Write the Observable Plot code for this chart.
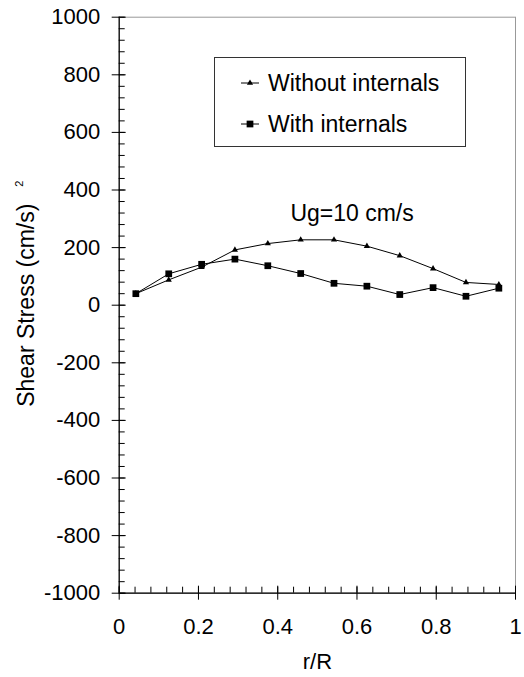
<!DOCTYPE html>
<html><head><meta charset="utf-8">
<script src="https://cdn.jsdelivr.net/npm/d3@7"></script>
<script src="https://cdn.jsdelivr.net/npm/@observablehq/plot@0.6"></script>
<style>
body{margin:0;background:#fff;}
#wrap{position:relative;width:524px;height:677px;font-family:Arial,"Liberation Sans",sans-serif;color:#000;}
#legend{position:absolute;left:214px;top:57px;width:252px;height:90px;border:1px solid #333;box-sizing:border-box;background:#fff;}
.row{position:absolute;left:26px;height:30px;line-height:30px;font-size:23px;display:flex;align-items:center;white-space:nowrap;}
.row svg{margin-right:9px;}
</style></head><body><div id="wrap"></div>
<script>
// r/R positions
const rR = [0.042, 0.125, 0.208, 0.292, 0.375, 0.458, 0.542, 0.625, 0.708, 0.792, 0.875, 0.958];
// Shear stress (cm/s)^2
const withoutInternals = [40, 88, 132, 192, 214, 227, 227, 205, 172, 127, 79, 72];
const withInternals = [40, 109, 142, 160, 137, 110, 76, 66, 37, 61, 31, 59];
const seriesNames = ["Without internals", "With internals"];
const seriesSymbols = ["triangle", "square"];
const xTicks = [0, 0.2, 0.4, 0.6, 0.8, 1];
const xTickLabels = ["0", "0.2", "0.4", "0.6", "0.8", "1"];
const xMinorTicks = d3.range(0, 1.0001, 0.04);
const yTicks = [-1000, -800, -600, -400, -200, 0, 200, 400, 600, 800, 1000];
const yMinorTicks = d3.range(-1000, 1001, 40);
const annotation = [{x: 0.432, y: 292, text: "Ug=10 cm/s"}];
const xLabel = "r/R";
const yLabel = "Shear Stress (cm/s)";
const yLabelSup = "2";

const W = 524, H = 677, mL = 118.7, mR = 9, mT = 16.7, mB = 84.3;
const plotW = W - mL - mR, plotH = H - mT - mB;

const data = rR.flatMap((x, i) => [
  {x, y: withoutInternals[i], s: seriesNames[0]},
  {x, y: withInternals[i], s: seriesNames[1]}
]);

const chart = Plot.plot({
  width: W, height: H,
  marginLeft: mL, marginRight: mR, marginTop: mT, marginBottom: mB,
  style: {fontFamily: "Arial, 'Liberation Sans', sans-serif", fontSize: "22px", color: "#000", background: "#fff"},
  x: {domain: [0, 1]},
  y: {domain: [-1000, 1000]},
  symbol: {domain: seriesNames, range: seriesSymbols},
  marks: [
    Plot.frame({stroke: "#999", strokeWidth: 1}),
    Plot.ruleX([0], {stroke: "#000", strokeWidth: 1.2}),
    Plot.ruleY([-1000], {stroke: "#000", strokeWidth: 1.2}),
    Plot.tickY(yMinorTicks, {y: d => d, insetRight: plotW - 6, stroke: "#000"}),
    Plot.tickY(yTicks, {y: d => d, insetRight: plotW - 14, dx: -7, stroke: "#000"}),
    Plot.tickX(xMinorTicks, {x: d => d, insetTop: plotH - 6, stroke: "#000"}),
    Plot.tickX(xTicks, {x: d => d, insetTop: plotH - 14, dy: 7, stroke: "#000"}),
    Plot.axisY({ticks: yTicks, tickSize: 0, tickPadding: 19, label: null, tickFormat: d => String(d), fontSize: 22}),
    Plot.axisX({ticks: xTicks, tickSize: 0, tickPadding: 25, label: null, tickFormat: (d, i) => xTickLabels[xTicks.indexOf(d)], fontSize: 22}),
    Plot.line(data, {x: "x", y: "y", z: "s", stroke: "#000", strokeWidth: 1}),
    Plot.dot(data.filter(d => d.s === seriesNames[0]), {x: "x", y: "y", symbol: "s", r: 2.3, fill: "#000", stroke: null}),
    Plot.dot(data.filter(d => d.s === seriesNames[1]), {x: "x", y: "y", symbol: "s", r: 3.8, fill: "#000", stroke: null}),
    Plot.text(annotation, {x: "x", y: "y", text: "text", textAnchor: "start", lineAnchor: "bottom", fontSize: 23, fill: "#000"}),
    Plot.text([xLabel], {frameAnchor: "bottom", textAnchor: "middle", lineAnchor: "bottom", dy: 75.3, fontSize: 22, fill: "#000"}),
    Plot.text([yLabel], {frameAnchor: "left", textAnchor: "middle", rotate: -90, lineAnchor: "bottom", dx: -85.2, fontSize: 23, fill: "#000"}),
    Plot.text([yLabelSup], {frameAnchor: "left", textAnchor: "middle", rotate: -90, lineAnchor: "bottom", dx: -96, dy: -121.4, fontSize: 11, fill: "#000"})
  ]
});

const wrap = document.getElementById("wrap");
wrap.appendChild(chart);

// Legend
const legend = document.createElement("div");
legend.id = "legend";
const rowTops = [25, 66];
seriesNames.forEach((name, i) => {
  const row = document.createElement("div");
  row.className = "row";
  row.style.top = (rowTops[i] - 15) + "px";
  const sym = d3.symbol(seriesSymbols[i] === "triangle" ? d3.symbolTriangle : d3.symbolSquare,
    seriesSymbols[i] === "triangle" ? Math.PI * 2.3 * 2.3 : Math.PI * 3.8 * 3.8)();
  row.innerHTML = `<svg width="18" height="12" viewBox="0 0 18 12"><line x1="0" x2="18" y1="6" y2="6" stroke="#000" stroke-width="1"/><path d="${sym}" transform="translate(9,6)" fill="#000"/></svg><span>${name}</span>`;
  legend.appendChild(row);
});
wrap.appendChild(legend);
</script>
</body></html>
